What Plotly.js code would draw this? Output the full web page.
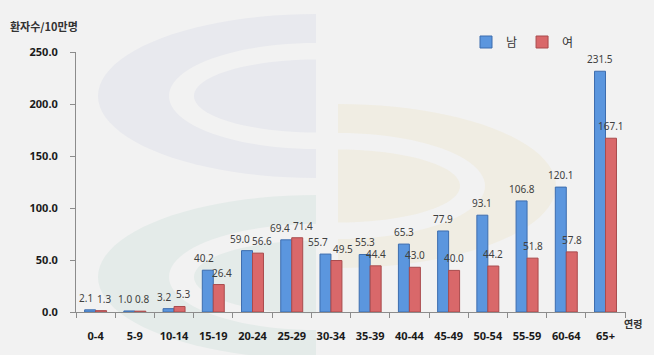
<!DOCTYPE html>
<html>
<head>
<meta charset="utf-8">
<script src="https://cdn.plot.ly/plotly-3.0.1.min.js"></script>
<style>html,body{margin:0;padding:0;background:#F2F2F2;}#chart{width:654px;height:355px;}</style>
</head>
<body>
<div id="chart"></div>
<script>
var categories = ['0-4','5-9','10-14','15-19','20-24','25-29','30-34','35-39','40-44','45-49','50-54','55-59','60-64','65+'];
var male = [2.1,1.0,3.2,40.2,59.0,69.4,55.7,55.3,65.3,77.9,93.1,106.8,120.1,231.5];
var female = [1.3,0.8,5.3,26.4,56.6,71.4,49.5,44.4,43.0,40.0,44.2,51.8,57.8,167.1];
var yTicks = [0,50,100,150,200,250];

var W = 654, H = 355, M = {l:76, r:28, t:52, b:43};
var pw = W - M.l - M.r, ph = H - M.t - M.b;
function px(x){ return (x - M.l) / pw; }
function py(y){ return (H - M.b - y) / ph; }
function halfEllipse(cx, cy, rx, ry, side, color){
  var pts = [], n = 48;
  for (var i = 0; i <= n; i++){
    var a = -Math.PI/2 + Math.PI * i / n;
    var x = cx + side * rx * Math.cos(a), y = cy + ry * Math.sin(a);
    pts.push((i ? 'L' : 'M') + px(x).toFixed(4) + ',' + py(y).toFixed(4));
  }
  return {type:'path', xref:'paper', yref:'paper', layer:'below', path: pts.join(' ') + ' Z',
          fillcolor: color, line:{width:0}};
}
function ring(cx, cy, side, color){
  return [halfEllipse(cx,cy,218,82,side,color), halfEllipse(cx,cy,147,53,side,'#F2F2F2'), halfEllipse(cx,cy,122,36.5,side,color)];
}
var shapes = [].concat(ring(316,96,-1,'#E8E9EE'), ring(338,186,1,'#F0EDE3'), ring(316,277,-1,'#E4EBE9'));

var numFont = 'Noto Sans, Noto Sans CJK KR, sans-serif';
var bargap = 0.44, half = (1 - bargap) / 4;   // bar centre offset in category units

// label nudges in pixels (style), as in the source where the first groups' labels are pushed apart
var maleNudge = [-4,-4,-5,-4,-7,-6,-7];
var femaleNudge = [3,2,3,3,4,6,7];

var annotations = [];
function addLabels(vals, side, nudges){
  vals.forEach(function(v, i){
    annotations.push({x: i + side * half, y: v, xref:'x', yref:'y', text: v.toFixed(1), showarrow:false,
      xanchor:'center', yanchor:'middle', yshift:12, xshift: nudges[i] || 0,
      font:{family:numFont, size:10, color:'#404040'}});
  });
}
addLabels(male, -1, maleNudge);
addLabels(female, 1, femaleNudge);
annotations.push(
  {text:'<b>환자수/10만명</b>', xref:'paper', yref:'paper', x:px(8), y:py(26), xanchor:'left', yanchor:'middle',
   showarrow:false, font:{family:'Noto Sans CJK KR, sans-serif', size:11, color:'#333'}},
  {text:'<b>연령</b>', xref:'paper', yref:'paper', x:px(633), y:py(323), xanchor:'center', yanchor:'middle',
   showarrow:false, font:{family:'Noto Sans CJK KR, sans-serif', size:10, color:'#333'}}
);

var traces = [
  {type:'bar', name:'남', x:categories, y:male, marker:{color:'#5B96DE', line:{color:'#3D6DAE', width:1}}},
  {type:'bar', name:'여', x:categories, y:female, marker:{color:'#D9686A', line:{color:'#A94B4D', width:1}}}
];

var layout = {
  width: W, height: H,
  margin: {l:M.l, r:M.r, t:M.t, b:M.b, pad:0},
  paper_bgcolor:'#F2F2F2', plot_bgcolor:'rgba(0,0,0,0)',
  barmode:'group', bargap:bargap, bargroupgap:0,
  font:{family:numFont, color:'#1a1a1a'},
  showlegend:true,
  legend:{orientation:'h', x:px(466), y:py(42), xanchor:'left', yanchor:'middle',
          font:{family:'Noto Sans CJK KR, sans-serif', size:12, color:'#333'}, bgcolor:'rgba(0,0,0,0)',
          itemwidth:30, tracegroupgap:0},
  xaxis:{type:'category', tickson:'boundaries', ticks:'outside', ticklen:5, tickcolor:'#8C8C8C',
         showline:true, linecolor:'#8C8C8C', linewidth:1, showgrid:false, zeroline:false,
         tickfont:{family:numFont, size:11, color:'#1a1a1a', weight:'bold'}, ticklabelstandoff:14},
  yaxis:{range:[0,250], tickvals:yTicks, tickformat:'.1f', ticks:'outside', ticklen:5, tickcolor:'#8C8C8C',
         showline:true, linecolor:'#8C8C8C', linewidth:1, showgrid:false, zeroline:false,
         tickfont:{family:numFont, size:11, color:'#1a1a1a', weight:'bold'}, ticklabelstandoff:10},
  shapes: shapes,
  annotations: annotations
};
Plotly.newPlot('chart', traces, layout, {displayModeBar:false, staticPlot:true});
</script>
</body>
</html>
